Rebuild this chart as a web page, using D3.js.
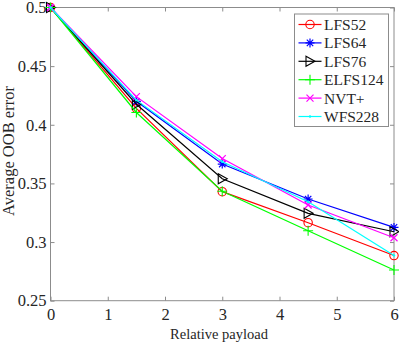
<!DOCTYPE html>
<html>
<head>
<meta charset="utf-8">
<script src="https://cdn.jsdelivr.net/npm/d3@7"></script>
<style>
  body { margin: 0; background: #fff; }
  svg text { font-family: "Liberation Serif", "Times New Roman", "DejaVu Serif", serif !important; }
</style>
</head>
<body>
<svg id="chart" width="399" height="342"></svg>
<script>
// payload values on the x axis
var payload = [0, 1.5, 3, 4.5, 6];

var lfs52   = [0.5, 0.414, 0.343, 0.3165, 0.2885];
var lfs64   = [0.5, 0.420, 0.3665, 0.3367, 0.3125];
var lfs76   = [0.5, 0.4175, 0.354, 0.3245, 0.3088];
var elfs124 = [0.5, 0.4105, 0.3433, 0.3097, 0.2762];
var nvt     = [0.5, 0.424, 0.3712, 0.3316, 0.3037];
var wfs228  = [0.5, 0.421, 0.3685, 0.3344, 0.2885];

var seriesNames = ["LFS52", "LFS64", "LFS76", "ELFS124", "NVT+", "WFS228"];
var xTicks = [0, 1, 2, 3, 4, 5, 6];
var yTicks = [0.25, 0.3, 0.35, 0.4, 0.45, 0.5];

var series = [
    { name: seriesNames[0], values: lfs52,   color: "#ff0000", marker: "circle" },
    { name: seriesNames[1], values: lfs64,   color: "#0000ff", marker: "star" },
    { name: seriesNames[2], values: lfs76,   color: "#000000", marker: "triangle" },
    { name: seriesNames[3], values: elfs124, color: "#00ff00", marker: "plus" },
    { name: seriesNames[4], values: nvt,     color: "#ff00ff", marker: "cross" },
    { name: seriesNames[5], values: wfs228,  color: "#00ffff", marker: "dot" }
];

var svg = d3.select("#chart");
var plotLeft = 50.5, plotRight = 394, plotTop = 7.5, plotBottom = 300.7;

var x = d3.scaleLinear().domain([0, 6]).range([plotLeft, plotRight]);
var y = d3.scaleLinear().domain([0.25, 0.5]).range([plotBottom, plotTop]);

var axisColor = "#8c8c8c", textColor = "#262626";

// box with ticks on all four sides, pointing inwards
svg.append("rect")
    .attr("x", plotLeft).attr("y", plotTop)
    .attr("width", plotRight - plotLeft).attr("height", plotBottom - plotTop)
    .attr("fill", "none").attr("stroke", axisColor).attr("stroke-width", 1);

var xb = svg.append("g").attr("transform", "translate(0," + plotBottom + ")")
    .call(d3.axisBottom(x).tickValues(xTicks).tickSize(-4).tickPadding(8).tickFormat(d3.format("d")));
var xt = svg.append("g").attr("transform", "translate(0," + plotTop + ")")
    .call(d3.axisTop(x).tickValues(xTicks).tickSize(-4).tickFormat(""));
var yl = svg.append("g").attr("transform", "translate(" + plotLeft + ",0)")
    .call(d3.axisLeft(y).tickValues(yTicks).tickSize(-4).tickPadding(4).tickFormat(function(d) { return String(+d.toFixed(2)); }));
var yr = svg.append("g").attr("transform", "translate(" + plotRight + ",0)")
    .call(d3.axisRight(y).tickValues(yTicks).tickSize(-4).tickFormat(""));

[xb, xt, yl, yr].forEach(function(g) {
    g.attr("font-family", null).attr("font-size", null);
    g.select(".domain").remove();
    g.selectAll(".tick line").attr("stroke", axisColor);
    g.selectAll(".tick text").attr("fill", textColor).style("font-size", "16.5px");
});

// axis labels
svg.append("text")
    .attr("x", 219).attr("y", 339)
    .attr("text-anchor", "middle").attr("fill", textColor)
    .style("font-size", "14.5px").text("Relative payload");

svg.append("text")
    .attr("transform", "translate(13.5,151) rotate(-90)")
    .attr("text-anchor", "middle").attr("fill", textColor)
    .style("font-size", "16.5px").text("Average OOB error");

function drawMarker(g, type, color) {
    if (type == "circle") {
        g.append("circle").attr("r", 4.2).attr("fill", "none").attr("stroke", color).attr("stroke-width", 1.1);
    } else if (type == "star") {
        g.append("path").attr("d", "M-4.5,0H4.5M0,-4.5V4.5M-3.2,-3.2L3.2,3.2M-3.2,3.2L3.2,-3.2")
            .attr("stroke", color).attr("stroke-width", 1.2);
    } else if (type == "triangle") {
        g.append("path").attr("d", "M-4,-5L5,0L-4,5Z").attr("fill", "none").attr("stroke", color).attr("stroke-width", 1.1);
    } else if (type == "plus") {
        g.append("path").attr("d", "M-5,0H5M0,-5V5").attr("stroke", color).attr("stroke-width", 1.1);
    } else if (type == "cross") {
        g.append("path").attr("d", "M-3.5,-3.5L3.5,3.5M-3.5,3.5L3.5,-3.5").attr("stroke", color).attr("stroke-width", 1.2);
    } else if (type == "dot") {
        g.append("circle").attr("r", 1.2).attr("fill", color);
    }
}

var line = d3.line()
    .x(function(d, i) { return x(payload[i]); })
    .y(function(d) { return y(d); });

var plot = svg.append("g");

series.forEach(function(s) {
    plot.append("path")
        .attr("d", line(s.values))
        .attr("fill", "none")
        .attr("stroke", s.color)
        .attr("stroke-width", 1.2);
    s.values.forEach(function(v, i) {
        var m = plot.append("g").attr("transform", "translate(" + x(payload[i]) + "," + y(v) + ")");
        drawMarker(m, s.marker, s.color);
    });
});

// legend
var lg = svg.append("g");
lg.append("rect")
    .attr("x", 294.5).attr("y", 14).attr("width", 94).attr("height", 112.5)
    .attr("fill", "#fff").attr("stroke", axisColor).attr("stroke-width", 1);

series.forEach(function(s, i) {
    var ly = 24.5 + i * 18.4;
    lg.append("line")
        .attr("x1", 298.5).attr("x2", 321.5).attr("y1", ly).attr("y2", ly)
        .attr("stroke", s.color).attr("stroke-width", 1.2);
    var m = lg.append("g").attr("transform", "translate(310," + ly + ")");
    drawMarker(m, s.marker, s.color);
    lg.append("text")
        .attr("x", 324).attr("y", ly + 5.5)
        .attr("fill", textColor)
        .style("font-size", "15.5px")
        .text(s.name);
});
</script>
</body>
</html>
